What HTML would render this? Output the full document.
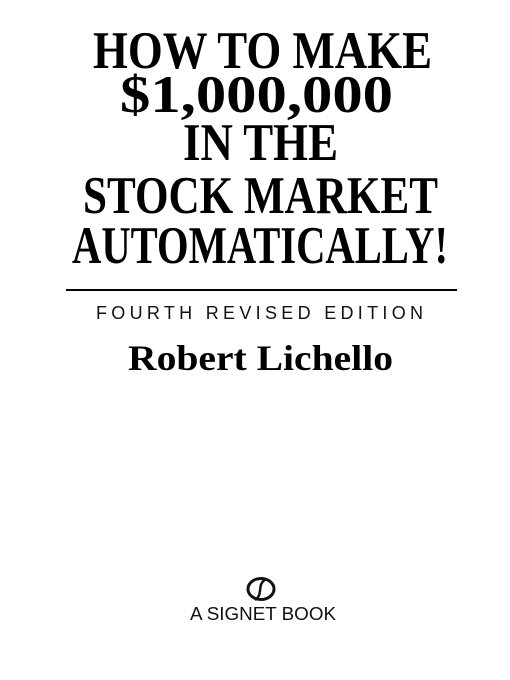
<!DOCTYPE html>
<html><head><meta charset="utf-8"><style>
html,body{margin:0;padding:0;background:#fff;width:510px;height:680px;overflow:hidden}
</style></head><body>
<svg width="510" height="680" viewBox="0 0 510 680" xmlns="http://www.w3.org/2000/svg">
<g font-family="Liberation Serif, serif" font-weight="bold" font-size="53" fill="#000">
<text x="93" y="68" textLength="339" lengthAdjust="spacingAndGlyphs">HOW TO MAKE</text>
<text x="120" y="112" textLength="273" lengthAdjust="spacingAndGlyphs">$1,000,000</text>
<text x="183" y="160" textLength="155" lengthAdjust="spacingAndGlyphs">IN THE</text>
<text x="83" y="213" textLength="355" lengthAdjust="spacingAndGlyphs">STOCK MARKET</text>
<text x="72" y="263" textLength="376" lengthAdjust="spacingAndGlyphs">AUTOMATICALLY!</text>
</g>
<rect x="66" y="289" width="391" height="2" fill="#000"/>
<text x="96" y="319" font-family="Liberation Sans, sans-serif" font-size="18" fill="#111" textLength="327" lengthAdjust="spacing">FOURTH REVISED EDITION</text>
<text x="128" y="370" font-family="Liberation Serif, serif" font-weight="bold" font-size="36" fill="#000" textLength="265" lengthAdjust="spacingAndGlyphs">Robert Lichello</text>
<g>
<ellipse cx="261" cy="589" rx="13" ry="10.5" fill="none" stroke="#111" stroke-width="3"/>
<path d="M266 579 C256 585 264 594 255 600" fill="none" stroke="#111" stroke-width="2.5"/>
</g>
<text x="190" y="620" font-family="Liberation Sans, sans-serif" font-size="18" fill="#111" textLength="146" lengthAdjust="spacingAndGlyphs">A SIGNET BOOK</text>
</svg>
</body></html>
